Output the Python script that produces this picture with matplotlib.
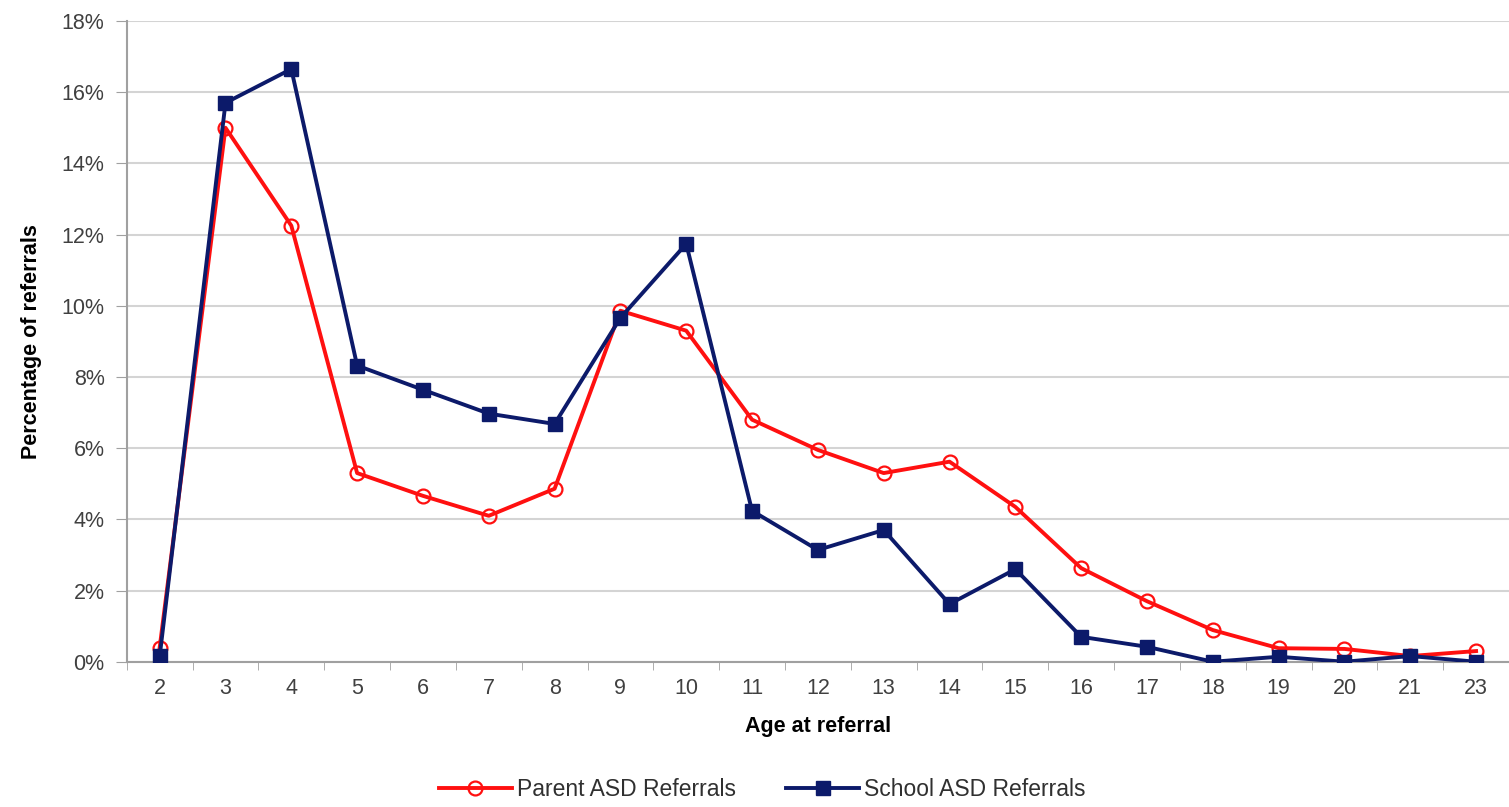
import matplotlib.pyplot as plt
from matplotlib.ticker import PercentFormatter, FixedLocator
import numpy as np

plt.rcParams['font.family'] = ['Liberation Sans', 'DejaVu Sans']

ages = ['2', '3', '4', '5', '6', '7', '8', '9', '10', '11', '12', '13', '14',
        '15', '16', '17', '18', '19', '20', '21', '23']
parent = [0.4, 15.0, 12.25, 5.3, 4.66, 4.1, 4.86, 9.86, 9.3, 6.8, 5.95, 5.3,
          5.62, 4.35, 2.63, 1.7, 0.89, 0.38, 0.36, 0.16, 0.3]
school = [0.15, 15.7, 16.65, 8.32, 7.64, 6.97, 6.68, 9.66, 11.74, 4.24, 3.14,
          3.7, 1.62, 2.6, 0.7, 0.42, 0.0, 0.14, 0.0, 0.16, 0.0]

x = np.arange(len(ages))

fig = plt.figure(figsize=(15.09, 8.07), dpi=100)
ax = fig.add_axes([0.084, 0.18, 0.916, 0.794])

ax.plot(x, parent, color='#ff1010', lw=2.8, marker='o', ms=10,
        mfc='none', mec='#ff1010', mew=1.6, label='Parent ASD Referrals', zorder=3)
ax.plot(x, school, color='#0c1a6a', lw=2.8, marker='s', ms=9.5,
        mfc='#0c1a6a', mec='#0c1a6a', label='School ASD Referrals', zorder=4)

ax.set_xlim(-0.5, len(ages) - 0.5)
ax.set_ylim(0, 18)
ax.set_yticks(np.arange(0, 19, 2))
ax.yaxis.set_major_formatter(PercentFormatter(decimals=0))
ax.set_xticks(x)
ax.set_xticklabels(ages)
ax.xaxis.set_minor_locator(FixedLocator(np.arange(-0.5, len(ages), 1)))
ax.tick_params(axis='x', which='major', length=0, pad=12, labelsize=15.5, labelcolor='#404040')
ax.tick_params(axis='x', which='minor', length=6, color='#a0a0a0', direction='out')
ax.tick_params(axis='y', length=8, color='#a0a0a0', pad=8, labelsize=15.5, labelcolor='#404040')

ax.grid(axis='y', color='#d4d4d4', lw=1.5)
ax.set_axisbelow(True)
for s in ['top', 'right']:
    ax.spines[s].set_visible(False)
for s in ['left', 'bottom']:
    ax.spines[s].set_color('#a0a0a0')
    ax.spines[s].set_linewidth(1.5)

ax.set_xlabel('Age at referral', fontsize=15.5, fontweight='bold', labelpad=12)
ax.set_ylabel('Percentage of referrals', fontsize=15.5, fontweight='bold', labelpad=14)

fig.legend(loc='lower center', bbox_to_anchor=(0.505, -0.018), ncol=2, frameon=False,
           fontsize=16.5, handlelength=3.2, handletextpad=0.2, columnspacing=2.2,
           labelcolor='#303030')

fig.savefig('out.png', dpi=100)
